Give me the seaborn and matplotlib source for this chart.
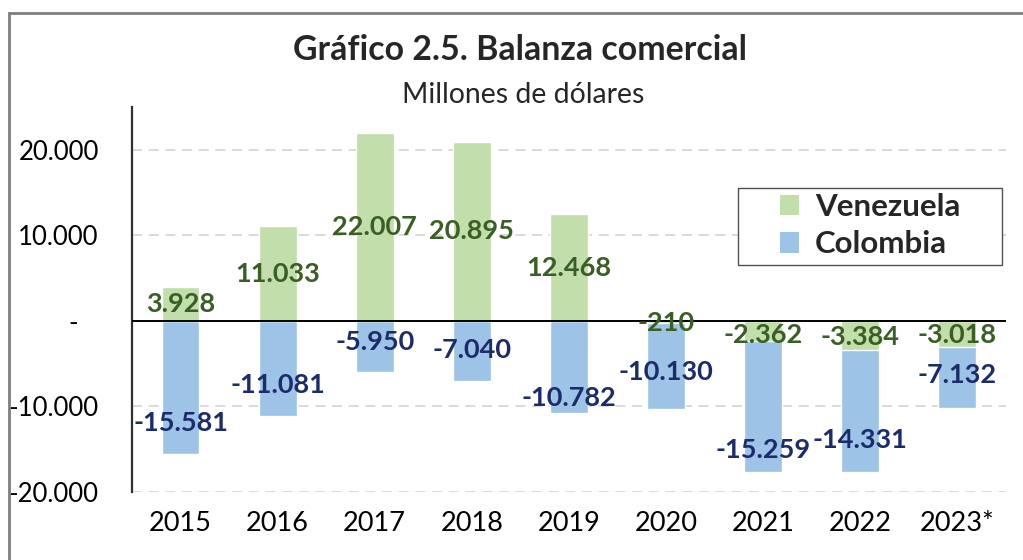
import matplotlib
matplotlib.use("Agg")
import matplotlib.pyplot as plt
from matplotlib.patches import Patch, Rectangle
import seaborn as sns
import pandas as pd

# ─────────────────────────────────────────────
#  DATA  (millones de dólares)
# ─────────────────────────────────────────────
years     = ["2015", "2016", "2017", "2018", "2019", "2020", "2021", "2022", "2023*"]
venezuela = [3928, 11033, 22007, 20895, 12468, -210, -2362, -3384, -3018]
colombia  = [-15581, -11081, -5950, -7040, -10782, -10130, -15259, -14331, -7132]
y_ticks   = [-20000, -10000, 0, 10000, 20000]

GREEN      = "#C1DEAB"
BLUE       = "#9DC3E6"
GREEN_TEXT = "#3A5F24"
BLUE_TEXT  = "#1C2C6B"

sns.set_theme(style="white")
plt.rcParams["font.family"] = ["Lato", "DejaVu Sans"]


def fmt(v):
    # Spanish thousands separator
    s = f"{abs(v):,}".replace(",", ".")
    return ("-" if v < 0 else "") + s


df = pd.DataFrame({"year": years, "ven": venezuela, "col": colombia})
# Colombia sits under the negative Venezuela part (stacked)
df["base"] = df["ven"].clip(upper=0)
df["col_end"] = df["base"] + df["col"]

W, H = 1023, 560
fig = plt.figure(figsize=(W / 100, H / 100), dpi=100)
ax = fig.add_axes([0.129, 0.1214, 0.854, 0.6876])

# grid first, under the bars
for t in y_ticks:
    if t != 0:
        ax.axhline(t, color="#D3D3D3", lw=1.2, ls=(0, (6, 4)), zorder=0)

sns.barplot(data=df, x="year", y="col_end", color=BLUE, saturation=1,
            width=0.39, ax=ax, zorder=2)
sns.barplot(data=df, x="year", y="ven", color=GREEN, saturation=1,
            width=0.39, ax=ax, zorder=3)

ax.axhline(0, color="black", lw=1.4, zorder=4)

# ── labels (positions nudged like the source chart) ──
ven_label_y = [1964, 5516, 11003, 10447, 6234, -210, -1640, -1870, -1640]
col_label_y = [-11930, -7480, -2460, -3390, -9000, -5960, -15090, -13920, -6320]
for i in range(len(years)):
    ax.text(i, ven_label_y[i], fmt(venezuela[i]), ha="center", va="center",
            color=GREEN_TEXT, fontsize=19.5, fontweight="bold", zorder=5)
    ax.text(i, col_label_y[i], fmt(colombia[i]), ha="center", va="center",
            color=BLUE_TEXT, fontsize=19.5, fontweight="bold", zorder=5)

# ── axes cosmetics ──
ax.set_xlim(-0.5, len(years) - 0.5)
ax.set_ylim(-20000, 25000)
ax.set_yticks(y_ticks)
ax.set_yticklabels([fmt(t) if t != 0 else "-   " for t in y_ticks])
ax.tick_params(axis="y", length=0, pad=24, labelsize=18.5, colors="black")
ax.tick_params(axis="x", length=0, pad=14, labelsize=19.5, colors="black")
ax.set_xlabel("")
ax.set_ylabel("")
for side in ["top", "right", "bottom"]:
    ax.spines[side].set_visible(False)
ax.spines["left"].set_color("#303030")
ax.spines["left"].set_linewidth(1.6)
ax.grid(False)

# legend box drawn separately so it can be wider than its entries
fig.patches.append(Rectangle((738 / W, 1 - 265 / H), 264 / W, 77 / H,
                             transform=fig.transFigure, facecolor="white",
                             edgecolor="#505050", lw=1.0, zorder=6))
handles = [Patch(facecolor=GREEN, edgecolor="none", label="Venezuela"),
           Patch(facecolor=BLUE, edgecolor="none", label="Colombia")]
leg = fig.legend(handles=handles, loc="upper left",
                 bbox_to_anchor=(780 / W, 1 - 193 / H),
                 frameon=False, prop={"size": 22.5, "weight": "bold"},
                 handlelength=0.62, handleheight=0.62, handletextpad=0.5,
                 borderpad=0, labelspacing=0.3, borderaxespad=0)
leg.set_zorder(7)

# ── titles ──
fig.text(0.508, 0.91, "Gráfico 2.5. Balanza comercial", ha="center", va="center",
         fontsize=24.4, fontweight="bold")
fig.text(0.511, 0.83, "Millones de dólares", ha="center", va="center", fontsize=20.4)

# outer frame (cut by the image edge on the right and bottom)
fig.patches.append(Rectangle((9 / W, -0.2), 1.5, 0.2 + (1 - 13 / H),
                             transform=fig.transFigure, fill=False,
                             edgecolor="#7F7F7F", lw=2))

plt.savefig("out.png", dpi=100)
plt.close()
